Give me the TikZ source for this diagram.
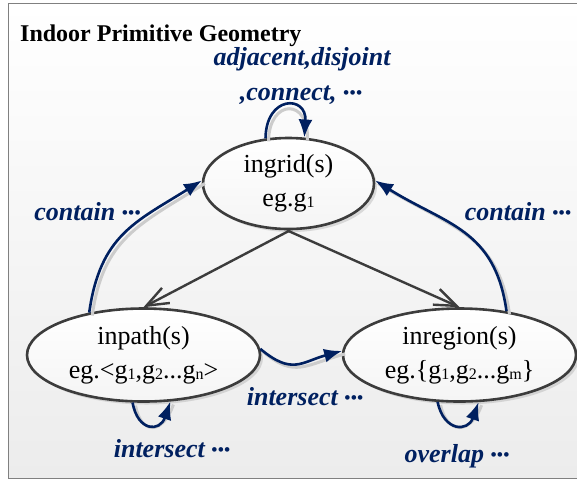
\documentclass[tikz,border=0pt]{standalone}
\usepackage{fontspec}
\setmainfont{Liberation Serif}
\usetikzlibrary{shapes.geometric,arrows.meta,shadows}
\definecolor{navy}{RGB}{0,32,96}
\definecolor{edgegray}{RGB}{60,60,60}
\definecolor{framegray}{RGB}{128,128,128}
\definecolor{bgbottom}{RGB}{236,236,236}
\newcommand\sbx[1]{\raisebox{-1pt}{\fontsize{16}{16}\selectfont #1}}
\newcommand\mdots{\raisebox{2pt}{\fontsize{17}{17}\selectfont •\kern0.5pt•\kern0.5pt•}}
\begin{document}
\begin{tikzpicture}[x=1pt,y=1pt,
  state/.style={ellipse, draw=edgegray, line width=2.6pt, top color=white, bottom color=gray!8,
    inner sep=0pt, align=center, font=\fontsize{26}{34}\selectfont,
    drop shadow={shadow xshift=3pt,shadow yshift=-3pt,opacity=0.25}},
  rel/.style={font=\fontsize{26}{30}\selectfont\bfseries\itshape, text=navy, inner sep=0pt, anchor=base},
  curveshadow/.style={draw=black!20, line width=3pt, transform canvas={shift={(3pt,-3pt)}}},
  relarrow/.style={draw=navy, line width=2.6pt, -{Latex[length=18pt,width=14pt]}},
  isaarrow/.style={draw=edgegray, line width=2.4pt, -{Straight Barb[length=22pt,width=17pt,line width=2.4pt]}}
]
\useasboundingbox (0,0) rectangle (577,-480);
\fill[top color=white, bottom color=bgbottom] (8,-3) rectangle (590,-478);
\draw[framegray, line width=1pt] (8,-3) rectangle (590,-478);
\node[anchor=base west, inner sep=0pt, font=\fontsize{24}{24}\selectfont\bfseries] (title) at (20,-41) {Indoor Primitive Geometry};

\node[state, minimum width=171pt, minimum height=91pt] (ingrid) at (288.5,-183.5) {ingrid(s)\\eg.g\sbx{1}};
\node[state, minimum width=233pt, minimum height=93pt] (inpath) at (143.5,-355) {inpath(s)\\eg.<g\sbx{1},g\sbx{2}...g\sbx{n}>};
\node[state, minimum width=233pt, minimum height=93pt] (inregion) at (459.5,-355) {inregion(s)\\eg.\{g\sbx{1},g\sbx{2}...g\sbx{m}\}};

\draw[isaarrow] (ingrid.-88) -- (inpath.north);
\draw[isaarrow] (ingrid.-92) -- (inregion.north);

% shadows of the relation curves
\draw[curveshadow] (ingrid.117) .. controls (266,-95) and (307,-95) .. (ingrid.71);
\draw[curveshadow] (inpath.142) to[out=82,in=212,looseness=1.15] (ingrid.178);
\draw[curveshadow] (inregion.43) to[out=98,in=-32,looseness=1.15] (ingrid.2);
\draw[curveshadow] (inpath.3) to[out=-40,in=195,looseness=1.3] (inregion.178);
\draw[curveshadow] (inpath.-103) .. controls (138,-432) and (160,-432) .. (inpath.-60);
\draw[curveshadow] (inregion.-115) .. controls (444,-432) and (468,-432) .. (inregion.-68);

\draw[relarrow] (ingrid.117) .. controls (266,-95) and (307,-95) .. (ingrid.71);
\draw[relarrow] (inpath.142) to[out=82,in=212,looseness=1.15] (ingrid.178);
\draw[relarrow] (inregion.43) to[out=98,in=-32,looseness=1.15] (ingrid.2);
\draw[relarrow] (inpath.3) to[out=-40,in=195,looseness=1.3] (inregion.178);
\draw[relarrow] (inpath.-103) .. controls (138,-432) and (160,-432) .. (inpath.-60);
\draw[relarrow] (inregion.-115) .. controls (444,-432) and (468,-432) .. (inregion.-68);

\node[rel] (l1) at (302,-65) {adjacent,disjoint};
\node[rel] (l2) at (301,-100) {,connect, \mdots};
\node[rel] (l3) at (87.5,-220) {contain \mdots};
\node[rel] (l4) at (518,-220) {contain \mdots};
\node[rel] (l5) at (305,-405) {intersect \mdots};
\node[rel] (l6) at (172,-457) {intersect \mdots};
\node[rel] (l7) at (457,-462) {overlap \mdots};
\end{tikzpicture}
\end{document}
